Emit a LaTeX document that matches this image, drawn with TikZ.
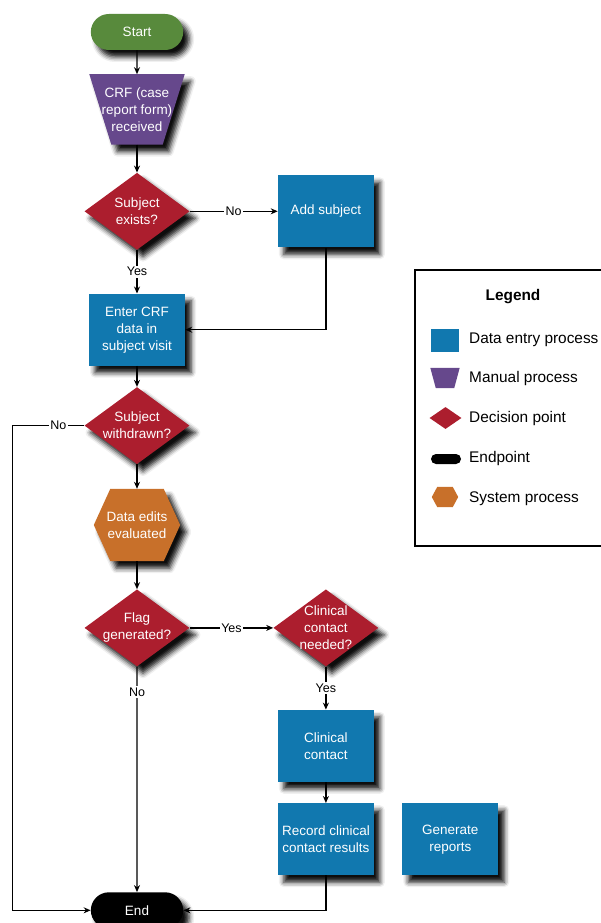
\documentclass[tikz,border=0pt]{standalone}
\usepackage{fontspec}
\setmainfont{Liberation Sans}
\usepackage{xcolor}
\usepackage{tikz}
\usetikzlibrary{arrows.meta,positioning,shapes.geometric,shapes.misc,backgrounds,shadows.blur}
\definecolor{startgreen}{RGB}{88,138,60}
\definecolor{manualpurple}{RGB}{102,72,140}
\definecolor{decisionred}{RGB}{172,30,46}
\definecolor{entryblue}{RGB}{17,120,175}
\definecolor{systemorange}{RGB}{200,112,42}

% filled outlines drawn inside a plain rectangle node
\newcommand{\hexfill}[3][]{%
  \fill[systemorange,#1] (#2.west) -- ([xshift=#3]#2.north west)
    -- ([xshift=-#3]#2.north east) -- (#2.east)
    -- ([xshift=-#3]#2.south east) -- ([xshift=#3]#2.south west) -- cycle;}
\newcommand{\trapfill}[3][]{%
  \fill[manualpurple,#1] (#2.north west) -- (#2.north east)
    -- ([xshift=-#3]#2.south east) -- ([xshift=#3]#2.south west) -- cycle;}

\begin{document}
\begin{tikzpicture}[x=1pt, y=-1pt,
    nodeshadow/.style={blur shadow={shadow xshift=6pt, shadow yshift=-7pt, shadow blur radius=5pt, shadow opacity=95}},
    boxtext/.style={text=white, align=center, font=\fontsize{13.5pt}{17pt}\selectfont},
    terminal/.style={boxtext, rounded rectangle, fill=startgreen, minimum width=99pt, minimum height=36pt, nodeshadow},
    manual/.style={boxtext, rectangle, minimum width=95pt, minimum height=70pt, inner sep=0pt},
    decision/.style={boxtext, diamond, fill=decisionred, minimum width=105pt, minimum height=77pt, inner sep=-12pt, nodeshadow},
    entry/.style={boxtext, rectangle, fill=entryblue, minimum width=96pt, minimum height=72pt, nodeshadow},
    sysproc/.style={boxtext, rectangle, minimum width=86pt, minimum height=72pt, inner sep=0pt},
    arrow/.style={-{Stealth[length=7pt, width=6pt]}, line width=1.3pt},
    lbl/.style={fill=white, inner sep=1.5pt, font=\fontsize{12.5pt}{14pt}\selectfont},
    keytext/.style={anchor=west, inner sep=0pt, font=\fontsize{15.4pt}{18pt}\selectfont}
]
\useasboundingbox (0,0) rectangle (600,923);

% Main flow
\node[terminal] (start) at (137,32) {Start};
\node[manual, below=24pt of start] (crf) {CRF (case\\report form)\\received};
\node[decision, below=28pt of crf] (exists) {Subject\\exists?};
\node[entry, right=88pt of exists] (addsubj) {Add subject};
\node[entry, below=43.5pt of exists] (enter) {Enter CRF\\data in\\subject visit};
\node[decision, below=21pt of enter] (withdrawn) {Subject\\withdrawn?};
\node[sysproc, below=24.5pt of withdrawn] (edits) {Data edits\\evaluated};
\node[decision, below=28pt of edits] (flag) {Flag\\generated?};
\node[decision, right=83.5pt of flag] (needed) {Clinical\\contact\\needed?};
\node[entry, below=43pt of needed] (contact) {Clinical\\contact};
\node[entry, below=21pt of contact] (record) {Record clinical\\contact results};
\node[entry, right=28pt of record] (reports) {Generate\\reports};
\node[terminal, fill=black, below=225.5pt of flag] (end) {End};

\begin{scope}[on background layer]
  \trapfill[nodeshadow]{crf}{22pt}
  \hexfill[nodeshadow]{edits}{16.5pt}
\end{scope}

% Connectors
\draw[arrow] (start) -- (crf);
\draw[arrow] (crf) -- (exists);
\draw[arrow] (exists) -- node[lbl] {No} (addsubj);
\draw[arrow] (exists) -- node[lbl] {Yes} (enter);
\draw[arrow] (addsubj) |- (enter);
\draw[arrow] (enter) -- (withdrawn);
\coordinate[left=72pt of withdrawn.west] (rail);
\draw[arrow] (withdrawn.west) -- node[lbl, pos=0.36] {No} (rail) |- (end.west);
\draw[arrow] (withdrawn) -- (edits);
\draw[arrow] (edits) -- (flag);
\draw[arrow] (flag) -- node[lbl] {Yes} (needed);
\draw[arrow] (flag) -- node[lbl, pos=0.113] {No} (end);
\draw[arrow] (needed) -- node[lbl] {Yes} (contact);
\draw[arrow] (contact) -- (record);
\draw[arrow] (record) |- (end);

% Legend
\node[draw, line width=2.4pt, anchor=north west, minimum width=220pt, minimum height=276pt] (legend) at (413.5,269) {};
\node[font=\bfseries\fontsize{15.4pt}{18pt}\selectfont] (legtitle) at (513,297) {Legend};
\node[fill=entryblue, minimum width=28pt, minimum height=23pt, inner sep=0pt] (kentry) at (445,340) {};
\node[keytext] (tentry) at ([xshift=24pt]kentry.center) {Data entry process};
\node[rectangle, minimum width=29pt, minimum height=20pt, inner sep=0pt] (kmanual) at (445,378) {};
\trapfill{kmanual}{5.5pt}
\node[keytext] (tmanual) at (469,379) {Manual process};
\node[diamond, fill=decisionred, minimum width=32pt, minimum height=22pt, inner sep=0pt] (kdecision) at (445.5,418) {};
\node[keytext] (tdecision) at (469,419) {Decision point};
\node[rounded rectangle, fill=black, minimum width=30pt, minimum height=10pt, inner sep=0pt] (kend) at (446,459) {};
\node[keytext] (tend) at (469,459) {Endpoint};
\node[rectangle, minimum width=26pt, minimum height=20pt, inner sep=0pt] (ksys) at (445,497) {};
\hexfill{ksys}{5.5pt}
\node[keytext] (tsys) at (469,499) {System process};

\end{tikzpicture}
\end{document}
